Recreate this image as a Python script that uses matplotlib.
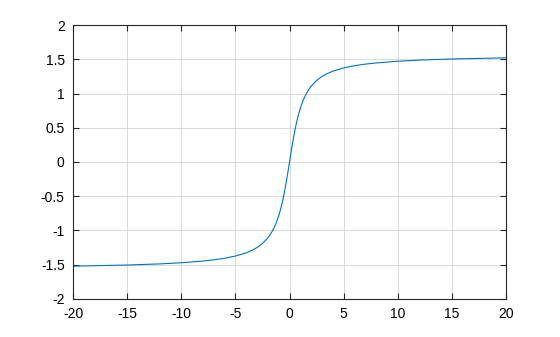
import numpy as np
import matplotlib
matplotlib.use("Agg")
import matplotlib.pyplot as plt

# values (right half, mirrored for the left half)
x_right = [0, 0.125, 0.25, 0.375, 0.5, 0.625, 0.75, 0.875, 1.0, 1.25, 1.5, 1.75,
           2.0, 2.5, 3.0, 3.5, 4.0, 5.0, 6.0, 7.0, 8.0, 10.0, 12.0, 15.0, 20.0]
y_right = [0, 0.124, 0.245, 0.359, 0.464, 0.559, 0.644, 0.719, 0.785, 0.896,
           0.983, 1.052, 1.107, 1.190, 1.249, 1.292, 1.326, 1.373, 1.406,
           1.429, 1.446, 1.471, 1.488, 1.504, 1.521]

x = [-v for v in x_right[:0:-1]] + x_right
y = [-v for v in y_right[:0:-1]] + y_right

xticks = [-20, -15, -10, -5, 0, 5, 10, 15, 20]
yticks = [-2, -1.5, -1, -0.5, 0, 0.5, 1, 1.5, 2]
ytick_labels = ["-2", "-1.5", "-1", "-0.5", "0", "0.5", "1", "1.5", "2"]

plt.rcParams['font.family'] = ['Liberation Sans', 'DejaVu Sans']

fig = plt.figure(figsize=(5.6, 3.37), dpi=100)
ax = fig.add_axes([0.1304, 0.1128, 0.7732, 0.813])
ax.plot(x, y, color='#0072BD', linewidth=0.8)

ax.set_xlim(-20, 20)
ax.set_ylim(-2, 2)
ax.set_xticks(xticks)
ax.set_xticklabels([str(t) for t in xticks])
ax.set_yticks(yticks)
ax.set_yticklabels(ytick_labels)
ax.grid(True, color='#d9d9d9', linewidth=0.7)
ax.set_axisbelow(True)
ax.tick_params(direction='in', length=4, width=0.8, labelsize=10, pad=6,
               top=True, right=True, colors='#262626', labelcolor='black')
for s in ax.spines.values():
    s.set_linewidth(0.8)
    s.set_color('#262626')

fig.savefig("out.png", dpi=100)
